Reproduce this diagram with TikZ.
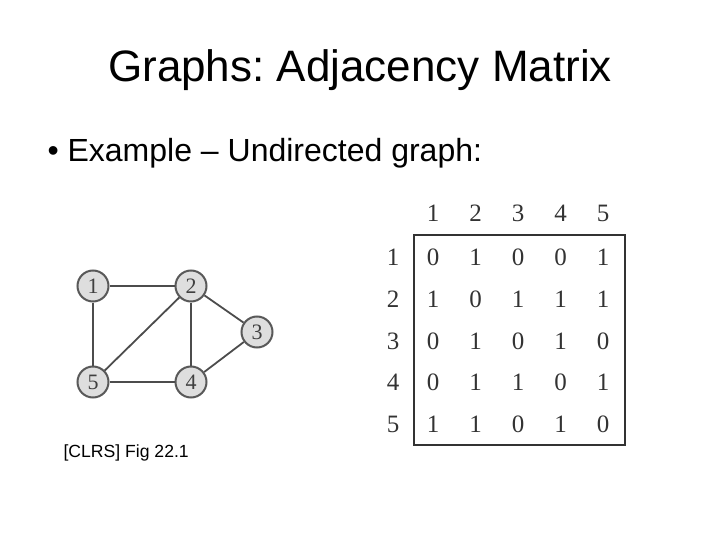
\documentclass[tikz,border=0pt]{standalone}
\usepackage{fontspec}
\setmainfont{Liberation Sans}
\newfontfamily\numfont{Liberation Serif}
\usetikzlibrary{positioning}
\frenchspacing

\begin{document}
\begin{tikzpicture}[x=1pt, y=-1pt,
    vtx/.style={circle, draw=black!65, line width=2pt, fill=black!13,
      minimum size=31pt, inner sep=0pt, font=\numfont\fontsize{22}{22}\selectfont, text=black!75},
    edg/.style={line width=1.8pt, black!70},
    cell/.style={font=\numfont\fontsize{25}{25}\selectfont, text=black!80,
      text height=17pt, text depth=0pt, inner sep=0pt}]

  \useasboundingbox (0,0) rectangle (720,540);

  \node[font=\fontsize{44}{44}\selectfont] (title) at (360,70) {Graphs: Adjacency Matrix};
  \node[font=\fontsize{32}{32}\selectfont, anchor=west] (bullet) at (44,153)
    {\textbullet\ Example -- Undirected graph:};

  % the graph
  \node[vtx] (v1) at (93,286) {1};
  \node[vtx] (v2) at (191,286) {2};
  \node[vtx] (v3) at (257,332) {3};
  \node[vtx] (v4) at (191,382) {4};
  \node[vtx] (v5) at (93,382) {5};
  \foreach \a/\b in {v1/v2, v1/v5, v2/v5, v2/v4, v2/v3, v3/v4, v5/v4}
    \draw[edg] (\a) -- (\b);

  \node[font=\fontsize{17.6}{17.6}\selectfont, anchor=west] (cap) at (60,453) {[CLRS] Fig 22.1};

  % the matrix
  \foreach \c in {1,...,5}
    \node[cell] (h\c) at ({390.5+42.5*\c},213) {\c};
  \foreach \r in {1,...,5}
    \node[cell] (r\r) at (393,{215.25+41.75*\r}) {\r};
  \foreach \row [count=\r] in {{0,1,0,0,1},{1,0,1,1,1},{0,1,0,1,0},{0,1,1,0,1},{1,1,0,1,0}}
    \foreach \v [count=\c] in \row
      \node[cell] (m\r\c) at ({390.5+42.5*\c},{215.25+41.75*\r}) {\v};
  \draw[line width=2pt, black!80] (414,235) rectangle (625,445);
\end{tikzpicture}
\end{document}
